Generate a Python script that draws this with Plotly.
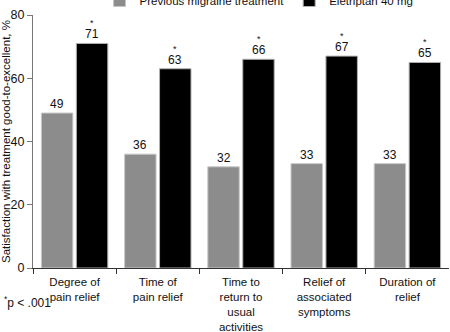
import plotly.graph_objects as go

categories = ["Degree of<br>pain relief", "Time of<br>pain relief", "Time to<br>return to<br>usual<br>activities",
              "Relief of<br>associated<br>symptoms", "Duration of<br>relief"]
previous = [49, 36, 32, 33, 33]
eletriptan = [71, 63, 66, 67, 65]
y_ticks = [0, 20, 40, 60, 80]

x = list(range(len(categories)))

fig = go.Figure()
fig.add_trace(go.Bar(
    x=x, y=previous, name="Previous migraine treatment",
    marker=dict(color="#8c8c8c", line=dict(color="#c8c8c8", width=1)),
))
fig.add_trace(go.Bar(
    x=x, y=eletriptan, name="Eletriptan 40 mg",
    marker=dict(color="#000000", line=dict(color="#b0b0b0", width=1)),
))

for xi, v in zip(x, previous):
    fig.add_annotation(x=xi, y=v, xref="x", yref="y", text=str(v), showarrow=False,
                       xshift=-17.5, yanchor="bottom", yshift=0, font=dict(size=12, color="#111"))
for xi, v in zip(x, eletriptan):
    fig.add_annotation(x=xi, y=v, xref="x", yref="y", text=str(v), showarrow=False,
                       xshift=17.5, yanchor="bottom", yshift=0, font=dict(size=12, color="#111"))
    fig.add_annotation(x=xi, y=v, xref="x", yref="y", text="*", showarrow=False,
                       xshift=17.5, yanchor="bottom", yshift=13, font=dict(size=9, color="#111"))

fig.update_layout(
    width=450, height=332,
    margin=dict(l=33, r=1, t=15, b=64, autoexpand=False),
    paper_bgcolor="white", plot_bgcolor="white",
    font=dict(family="Liberation Sans, Arial, sans-serif", size=11, color="#111"),
    barmode="group", bargap=0.16, bargroupgap=0.1,
    showlegend=True,
    legend=dict(orientation="h", x=0.16, xanchor="left", y=1.0, yanchor="bottom",
                font=dict(size=11.5), itemwidth=30, tracegroupgap=0,
                bgcolor="rgba(0,0,0,0)"),
    xaxis=dict(
        range=[-0.5, 4.5], tickvals=x, ticktext=categories, ticks="", automargin=False,
        showline=True, linecolor="#333", linewidth=1, showgrid=False, zeroline=False,
        tickfont=dict(size=11.5), ticklabelstandoff=3,
        minor=dict(tickvals=[-0.5, 0.5, 1.5, 2.5, 3.5], ticks="outside", ticklen=5,
                   tickcolor="#333", showgrid=False),
    ),
    yaxis=dict(
        range=[y_ticks[0], y_ticks[-1]], tick0=y_ticks[0], dtick=y_ticks[1] - y_ticks[0],
        ticks="outside", ticklen=5, tickcolor="#777", ticklabeloverflow="allow",
        showline=True, linecolor="#777", linewidth=1, showgrid=False, zeroline=False,
        tickfont=dict(size=12.5, color="#111"), automargin=False,
        title=dict(text="Satisfaction with treatment good-to-excellent, %",
                   font=dict(size=11.5), standoff=4),
    ),
)
fig.add_annotation(text="<sup>*</sup>p < .001", xref="paper", yref="paper",
                   x=-31/416, y=-34/253, xanchor="left", yanchor="middle",
                   showarrow=False, font=dict(size=12))

fig.write_html("out.html")
